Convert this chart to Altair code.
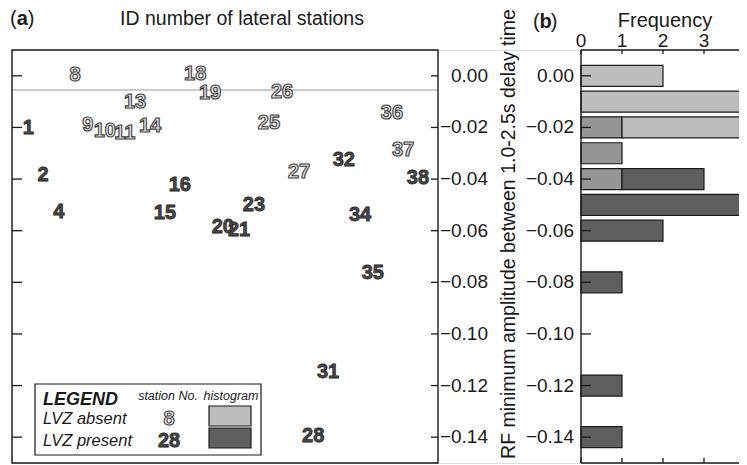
import altair as alt
import pandas as pd

# ---------------- data ----------------
station_id = [1, 2, 4, 8, 9, 10, 11, 13, 14, 15, 16, 18, 19, 20, 21, 23, 25, 26, 27, 28,
              31, 32, 34, 35, 36, 37, 38]
lateral_pos = [3.8, 7.3, 11.0, 14.8, 17.8, 21.8, 26.5, 28.9, 32.4, 35.9, 39.4, 43.0, 46.5,
               49.5, 53.3, 56.8, 60.3, 63.4, 67.4, 70.7, 74.2, 77.9, 81.7, 84.7, 89.2, 91.8, 95.3]
rf_min_amp = [-0.0201, -0.0383, -0.0526, 0.0004, -0.0190, -0.0213, -0.0221, -0.0101, -0.0193,
              -0.0530, -0.0422, 0.0008, -0.0066, -0.0584, -0.0596, -0.0499, -0.0182, -0.0062,
              -0.0371, -0.1397, -0.1149, -0.0325, -0.0538, -0.0762, -0.0143, -0.0286, -0.0395]
lvz = ["present", "present", "present", "absent", "absent", "absent", "absent", "absent",
       "absent", "present", "present", "absent", "absent", "present", "present", "present",
       "absent", "absent", "absent", "present", "present", "present", "present", "present",
       "absent", "absent", "present"]

bin_center = [0.00, -0.01, -0.02, -0.03, -0.04, -0.05, -0.06, -0.07, -0.08, -0.09, -0.10,
              -0.11, -0.12, -0.13, -0.14]
absent_count = [2, 4, 5, 1, 1, 0, 0, 0, 0, 0, 0, 0, 0, 0, 0]
present_count = [0, 0, 1, 1, 3, 4, 2, 0, 1, 0, 0, 0, 1, 0, 1]

amp_ticks = [0.00, -0.02, -0.04, -0.06, -0.08, -0.10, -0.12, -0.14]
freq_ticks = [0, 1, 2, 3, 4]
threshold = [-0.0055]

title_a = "ID number of lateral stations"
title_b = "Frequency"
y_title = "RF minimum amplitude between 1.0-2.5s delay time"

# ---------------- styling / layout ----------------
FONT = "Liberation Sans, Arial, Helvetica, sans-serif"
INK = "#1a1a1a"
LIGHT, MID, DARK = "#bdbdbd", "#959595", "#5f5f5f"
W_A, H = 426, 413           # panel (a) plot area
B0 = 569                    # left edge of panel (b) in the shared pixel frame
PX_PER_COUNT = 41
XB_MAX = 4.1
W_TOTAL = 727

yscale = alt.Scale(domain=[-0.15, 0.01], nice=False, zero=False, padding=0)
xa_scale = alt.Scale(domain=[0, 100], range=[0, W_A], nice=False, zero=False, padding=0)
xb_scale = alt.Scale(domain=[0, XB_MAX], range=[B0, B0 + XB_MAX * PX_PER_COUNT],
                     nice=False, zero=False, clamp=True, padding=0)

stations = pd.DataFrame({"id": [str(s) for s in station_id], "pos": lateral_pos,
                         "amp": rf_min_amp, "lvz": lvz})
ticks_df = pd.DataFrame({"v": amp_ticks,
                         "lab": [f"{v:.2f}".replace("-", "\u2212") for v in amp_ticks]})
fticks_df = pd.DataFrame({"f": freq_ticks, "lab": [str(f) for f in freq_ticks]})
one = pd.DataFrame({"k": [0]})

Y = alt.Y("v:Q", scale=yscale, axis=None)


def label(text, x, y, size=19, weight="normal", style="normal", align="left", color=INK,
          **kw):
    return alt.Chart(one).mark_text(text=text, fontSize=size, fontWeight=weight,
                                    fontStyle=style, align=align, baseline="middle",
                                    color=color, font=FONT, **kw).encode(
        x=alt.value(x), y=alt.value(y))


def box(x, x2, y, y2, fill, sw=1.2):
    return alt.Chart(one).mark_rect(fill=fill, stroke=INK, strokeWidth=sw).encode(
        x=alt.value(x), x2=alt.value(x2), y=alt.value(y), y2=alt.value(y2))


def hrule(x, x2, y, sw=1.4):
    return alt.Chart(one).mark_rule(color=INK, strokeWidth=sw).encode(
        x=alt.value(x), x2=alt.value(x2), y=alt.value(y))


# ---------------- panel (a) ----------------
a_lticks = alt.Chart(ticks_df).mark_rule(color=INK, strokeWidth=1.3).encode(
    y=Y, x=alt.value(0), x2=alt.value(10))
a_rticks = alt.Chart(ticks_df).mark_rule(color=INK, strokeWidth=1.3).encode(
    y=Y, x=alt.value(W_A - 7), x2=alt.value(W_A))
a_labels = alt.Chart(ticks_df).mark_text(font=FONT, fontSize=19, color=INK, align="right",
                                         baseline="middle").encode(
    y=Y, x=alt.value(476), text="lab:N")
a_thresh = alt.Chart(pd.DataFrame({"t": threshold})).mark_rule(
    color="#9a9a9a", strokeWidth=1.2).encode(
    y=alt.Y("t:Q", scale=yscale, axis=None), x=alt.value(0), x2=alt.value(W_A))

txt_common = dict(font=FONT, fontSize=20, fontWeight="bold", align="center",
                  baseline="middle")
ABS_STYLE = dict(fill="#e9e9e9", stroke="#3c3c3c", strokeWidth=1.1)
PRE_STYLE = dict(fill="#4a4a4a", stroke="#262626", strokeWidth=0.8)
XA = alt.X("pos:Q", scale=xa_scale, axis=None)
a_absent = alt.Chart(stations).transform_filter(alt.datum.lvz == "absent").mark_text(
    **ABS_STYLE, **txt_common).encode(
    x=XA, y=alt.Y("amp:Q", scale=yscale, axis=None), text="id:N")
a_present = alt.Chart(stations).transform_filter(alt.datum.lvz == "present").mark_text(
    **PRE_STYLE, **txt_common).encode(
    x=XA, y=alt.Y("amp:Q", scale=yscale, axis=None), text="id:N")

a_titles = [
    label("(", -2, -31, size=20),
    label("a", 4.7, -31, size=20, weight="bold"),
    label(")", 15.8, -31, size=20),
    label(title_a, 230, -31, size=19.5, align="center"),
]
legend = [
    box(23, 249, 334, 405, "white"),
    label("LEGEND", 31, 350, size=18, weight="bold", style="italic"),
    label("LVZ absent", 31, 369, size=16.5, style="italic"),
    label("LVZ present", 31, 391, size=16.5, style="italic"),
    label("station No.", 156, 346, size=12.5, style="italic", align="center"),
    label("histogram", 219, 346, size=12.5, style="italic", align="center"),
    alt.Chart(one).mark_text(text="8", **ABS_STYLE, **txt_common).encode(
        x=alt.value(157), y=alt.value(369)),
    alt.Chart(one).mark_text(text="28", **PRE_STYLE, **txt_common).encode(
        x=alt.value(157), y=alt.value(391)),
    box(197, 239, 356, 376, LIGHT),
    box(197, 239, 378, 398, DARK),
]
a_frame = box(0, W_A, 0, H, "transparent", sw=1.4)

# ---------------- panel (b) ----------------
rows = []
for c, na, npre in zip(bin_center, absent_count, present_count):
    m = min(na, npre)
    if m > 0:
        rows.append({"amp": c, "start": 0, "end": m, "kind": "overlap"})
    if na > m:
        rows.append({"amp": c, "start": m, "end": na, "kind": "absent"})
    if npre > m:
        rows.append({"amp": c, "start": m, "end": npre, "kind": "present"})
seg = pd.DataFrame(rows)

bars = alt.Chart(seg).mark_bar(orient="horizontal", size=21, stroke=INK,
                               strokeWidth=1.2).encode(
    x=alt.X("start:Q", scale=xb_scale, axis=None),
    x2="end:Q",
    y=alt.Y("amp:Q", scale=yscale, axis=None),
    color=alt.Color("kind:N", scale=alt.Scale(domain=["absent", "overlap", "present"],
                                              range=[LIGHT, MID, DARK]), legend=None))

b_lticks = alt.Chart(ticks_df).mark_rule(color=INK, strokeWidth=1.3).encode(
    y=Y, x=alt.value(B0), x2=alt.value(B0 + 10))
b_rticks = alt.Chart(ticks_df).mark_rule(color=INK, strokeWidth=1.3).encode(
    y=Y, x=alt.value(730), x2=alt.value(742))
b_labels = alt.Chart(ticks_df).mark_text(font=FONT, fontSize=19, color=INK, align="right",
                                         baseline="middle").encode(
    y=Y, x=alt.value(B0 - 7), text="lab:N")
XB = alt.X("f:Q", scale=xb_scale, axis=None)
b_tticks = alt.Chart(fticks_df).mark_rule(color=INK, strokeWidth=1.3).encode(
    x=XB, y=alt.value(0), y2=alt.value(4))
b_bticks = alt.Chart(fticks_df).mark_rule(color=INK, strokeWidth=1.3).encode(
    x=XB, y=alt.value(H - 5), y2=alt.value(H))
b_flabels = alt.Chart(fticks_df).mark_text(font=FONT, fontSize=19, color=INK,
                                           align="center", baseline="middle").encode(
    x=XB, y=alt.value(-9), text="lab:N")

b_frame = [
    alt.Chart(one).mark_rule(color=INK, strokeWidth=1.4).encode(
        x=alt.value(B0), y=alt.value(0), y2=alt.value(H)),
    hrule(B0, 745, 0), hrule(B0, 745, H),
]
b_titles = [
    label("(", 521, -28, size=20),
    label("b", 527.5, -28, size=20, weight="bold"),
    label(")", 538.7, -28, size=20),
    label(title_b, 653, -29, size=20, align="center"),
    alt.Chart(one).mark_text(text=y_title, angle=270, fontSize=19.5, font=FONT, color=INK,
                             align="center", baseline="middle").encode(
        x=alt.value(497), y=alt.value(184)),
]

chart = alt.layer(
    a_thresh, a_lticks, a_rticks, a_labels, a_absent, a_present, *a_titles, *legend, a_frame,
    bars, b_lticks, b_rticks, b_labels, b_tticks, b_bticks, b_flabels, *b_frame, *b_titles
).resolve_scale(x="independent").properties(
    width=W_TOTAL, height=H,
    padding={"left": 4, "top": 42, "right": 0, "bottom": 2},
    autosize=alt.AutoSizeParams(type="none"),
).configure_view(stroke="transparent", strokeWidth=0).configure(background="white")

chart.save("out.html", embed_options={"renderer": "svg", "actions": False})
